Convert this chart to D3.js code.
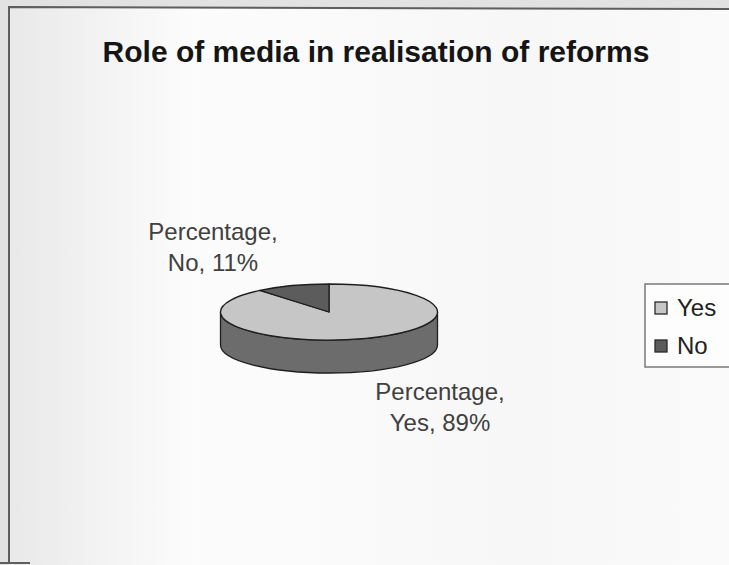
<!DOCTYPE html>
<html>
<head>
<meta charset="utf-8">
<script src="https://cdn.jsdelivr.net/npm/d3@7"></script>
<style>
  html, body { margin: 0; padding: 0; background: #e2e2e2; }
  svg { display: block; }
  text { font-family: "Liberation Sans", Arial, sans-serif; }
</style>
</head>
<body>
<svg id="chart" width="729" height="565"></svg>
<script>
// Survey answers on the role of the media in realising reforms
const chartTitle = "Role of media in realisation of reforms";
const seriesName = "Percentage";
const categories = ["Yes", "No"];
const percentages = [89, 11];
const topColours = ["#c6c6c6", "#5c5c5c"];
const sideColours = ["#6c6c6c", "#3e3e3e"];

const W = 729, H = 565;
const svg = d3.select("#chart");

// Chart area background with a soft grey wash
const defs = svg.append("defs");
const bg = defs.append("linearGradient").attr("id", "bgGrad")
  .attr("x1", 0).attr("y1", 0).attr("x2", 1).attr("y2", 0);
bg.append("stop").attr("offset", 0).attr("stop-color", "#e9e9e9");
bg.append("stop").attr("offset", 0.25).attr("stop-color", "#fcfcfc");
bg.append("stop").attr("offset", 0.7).attr("stop-color", "#f7f7f7");
bg.append("stop").attr("offset", 1).attr("stop-color", "#fafafa");

svg.append("rect").attr("x", 9).attr("y", 8).attr("width", W).attr("height", H)
  .attr("fill", "url(#bgGrad)");

// Frame: left and top edges, plus the stub at the bottom-left corner
svg.append("path")
  .attr("d", `M9,${H - 2}L9,7L${W},9`)
  .attr("fill", "none").attr("stroke", "#5e5e5e").attr("stroke-width", 2);
svg.append("path")
  .attr("d", `M0,${H - 2}L30,${H - 2}`)
  .attr("stroke", "#5e5e5e").attr("stroke-width", 2);

// Title
svg.append("text")
  .attr("x", 376).attr("y", 62)
  .attr("text-anchor", "middle")
  .attr("font-size", 30).attr("font-weight", "bold")
  .attr("fill", "#151515")
  .text(chartTitle);

// 3-D pie geometry
const cx = 329, cy = 312, rx = 108.5, ry = 28, depth = 33;
const colourTop = d3.scaleOrdinal().domain(categories).range(topColours);
const colourSide = d3.scaleOrdinal().domain(categories).range(sideColours);

const pie = d3.pie().sort(null).value(d => d.value).startAngle(0).endAngle(2 * Math.PI);
const arcs = pie(categories.map((c, i) => ({ name: c, value: percentages[i] })));

const pt = (a, dy = 0) => [cx + rx * Math.sin(a), cy - ry * Math.cos(a) + dy];

function topPath(d) {
  const p0 = pt(d.startAngle), p1 = pt(d.endAngle);
  const large = (d.endAngle - d.startAngle) > Math.PI ? 1 : 0;
  return `M${cx},${cy}L${p0[0]},${p0[1]}A${rx},${ry} 0 ${large} 1 ${p1[0]},${p1[1]}Z`;
}

function sidePath(d) {
  const s = Math.max(d.startAngle, Math.PI / 2);
  const e = Math.min(d.endAngle, 3 * Math.PI / 2);
  if (e <= s) return null;
  const a = pt(s), b = pt(e), b2 = pt(e, depth), a2 = pt(s, depth);
  return `M${a[0]},${a[1]}A${rx},${ry} 0 0 1 ${b[0]},${b[1]}` +
         `L${b2[0]},${b2[1]}A${rx},${ry} 0 0 0 ${a2[0]},${a2[1]}Z`;
}

const pieG = svg.append("g");
pieG.selectAll("path.side").data(arcs.filter(d => sidePath(d))).join("path")
  .attr("class", "side")
  .attr("d", sidePath)
  .attr("fill", d => colourSide(d.data.name))
  .attr("stroke", "#1e1e1e").attr("stroke-width", 1.3).attr("stroke-linejoin", "round");

pieG.selectAll("path.top").data(arcs).join("path")
  .attr("class", "top")
  .attr("d", topPath)
  .attr("fill", d => colourTop(d.data.name))
  .attr("stroke", "#1e1e1e").attr("stroke-width", 1.3).attr("stroke-linejoin", "round");

// Data labels
const labelPos = { "Yes": [440, 400], "No": [213, 240] };
const lab = svg.append("g").selectAll("text").data(arcs).join("text")
  .attr("x", d => labelPos[d.data.name][0])
  .attr("y", d => labelPos[d.data.name][1])
  .attr("text-anchor", "middle")
  .attr("font-size", 24)
  .attr("fill", "#404040");
lab.append("tspan").text(`${seriesName},`);
lab.append("tspan")
  .attr("x", d => labelPos[d.data.name][0])
  .attr("dy", 31)
  .text(d => `${d.data.name}, ${d.data.value}%`);

// Legend
svg.append("rect").attr("x", 645).attr("y", 284).attr("width", 100).attr("height", 83)
  .attr("fill", "#fdfdfd").attr("stroke", "#7a7a7a").attr("stroke-width", 1.5);
const row = d3.scaleBand().domain(categories).range([288, 364]);
const leg = svg.append("g").selectAll("g").data(categories).join("g")
  .attr("transform", d => `translate(0,${row(d) + row.bandwidth() / 2})`);
leg.append("rect").attr("x", 655).attr("y", -5).attr("width", 12).attr("height", 12)
  .attr("fill", d => colourTop(d)).attr("stroke", "#2a2a2a").attr("stroke-width", 1.3);
leg.append("text").attr("x", 677).attr("y", 9)
  .attr("font-size", 24).attr("fill", "#222")
  .text(d => d);
</script>
</body>
</html>
